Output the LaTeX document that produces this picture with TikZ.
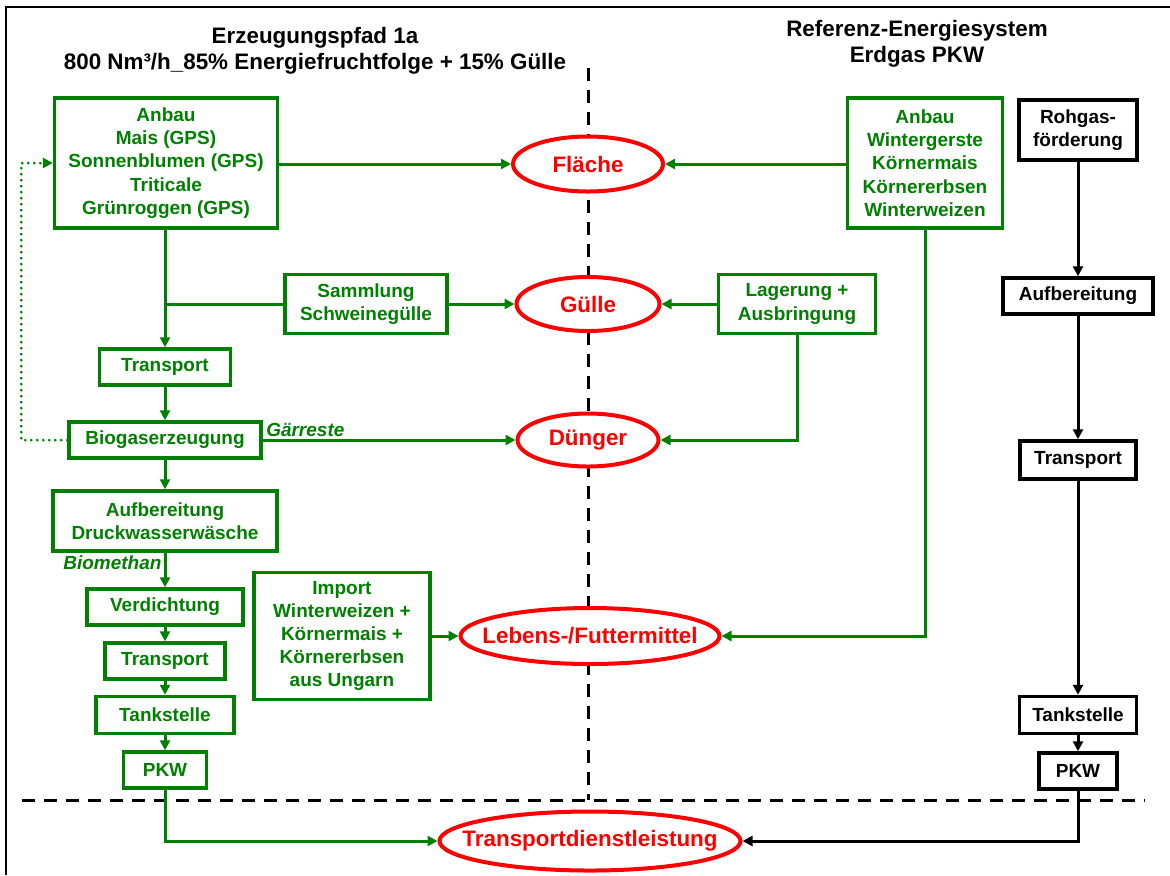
\documentclass[tikz,border=0pt]{standalone}
\usepackage{fontspec}
\setmainfont{Liberation Sans}
\usetikzlibrary{positioning,arrows.meta,shapes.geometric}
\definecolor{gruen}{RGB}{0,128,0}
\definecolor{rot}{RGB}{255,0,0}
\newcommand{\zt}[1]{\makebox[0pt]{#1}}

\begin{document}
\begin{tikzpicture}[
    x=0.5pt, y=-0.5pt,
    box/.style={rectangle, draw, line width=1.75pt, fill=white, align=center, inner sep=1pt, font=\fontsize{9.5}{11.6}\selectfont\bfseries},
    gbox/.style={box, draw=gruen, text=gruen},
    kbox/.style={box, draw=black, text=black},
    ziel/.style={ellipse, draw=rot, line width=2pt, fill=white, text=rot, inner sep=0pt, font=\fontsize{11.2}{13}\selectfont\bfseries},
    titel/.style={align=center, font=\fontsize{11.2}{13}\selectfont\bfseries},
    lbl/.style={text=gruen, inner sep=1pt, font=\fontsize{9.5}{11}\selectfont\bfseries\itshape},
    garrow/.style={-{Triangle[length=5pt,width=5pt]}, gruen, line width=1.5pt},
    gline/.style={gruen, line width=1.5pt},
    gdots/.style={-{Triangle[length=5pt,width=5pt]}, gruen, line width=1.5pt, line cap=round, dash pattern=on 0pt off 3pt},
    karrow/.style={-{Triangle[length=5pt,width=5pt]}, black, line width=1.5pt},
    trenn/.style={black, line width=1.5pt, dash pattern=on 6.5pt off 4.5pt}
]
\useasboundingbox (0,0) rectangle (1170,875);

% Rahmen und Trennlinien
\draw[line width=1.2pt] (6,875) -- (6,7) -- (1170,7);
\coordinate (trennO) at (588,68);
\coordinate (trennU) at (588,800);
\coordinate (trennL) at (22,800);
\coordinate (trennR) at (1145,800);
\draw[trenn] (trennO) -- (trennU);
\draw[trenn] (trennL) -- (trennR);

% Ueberschriften
\node[titel] (titelL) at (315,51) {Erzeugungspfad 1a\\800 Nm³/h\_85\% Energiefruchtfolge + 15\% Gülle};
\node[titel] (titelR) at (917,44) {Referenz-Energiesystem\\Erdgas PKW};

% Erzeugungspfad
\node[gbox, minimum width=111.5pt, minimum height=65pt] (anbauL) at (166,163) {Anbau\\Mais (GPS)\\Sonnenblumen (GPS)\\Triticale\\Grünroggen (GPS)};
\node[gbox, minimum width=81pt, minimum height=29.5pt] (sammlung) at (366,304) {Sammlung\\Schweinegülle};
\node[gbox, minimum width=65.5pt, minimum height=18pt] (transp1) at (165,367) {Transport};
\node[gbox, minimum width=96pt, minimum height=18pt] (biogas) at (165,440) {Biogaserzeugung};
\node[gbox, minimum width=112pt, minimum height=30pt] (aufb) at (165,521) {Aufbereitung\\Druckwasserwäsche};
\node[gbox, minimum width=78pt, minimum height=18pt] (verdicht) at (165,607) {Verdichtung};
\node[gbox, minimum width=60pt, minimum height=18pt] (transp2) at (165,661) {Transport};
\node[gbox, minimum width=69pt, minimum height=18.5pt] (tankG) at (165,715) {Tankstelle};
\node[gbox, minimum width=41.5pt, minimum height=18pt] (pkwG) at (165,770) {PKW};
\node[gbox, minimum width=88pt, minimum height=63.5pt] (import) at (342,636) {Import\\Winterweizen +\\Körnermais +\\Körnererbsen\\aus Ungarn};

% Bilanzgroessen
\node[ziel, minimum width=75pt, minimum height=27.5pt] (flaeche) at (588,164) {\zt{Fläche}};
\node[ziel, minimum width=71.5pt, minimum height=27pt] (guelle) at (588,304) {\zt{Gülle}};
\node[ziel, minimum width=70.5pt, minimum height=26.5pt] (duenger) at (588,440) {\zt{Dünger}};
\node[ziel, minimum width=129.5pt, minimum height=28pt] (lebens) at (590,636) {\zt{Lebens-/Futtermittel}};
\node[ziel, minimum width=150.5pt, minimum height=29.5pt] (tdl) at (590,841) {\zt{Transportdienstleistung}};

% Referenzsystem
\node[gbox, minimum width=77.5pt, minimum height=65pt] (anbauR) at (925,163) {Anbau\\Wintergerste\\Körnermais\\Körnererbsen\\Winterweizen};
\node[gbox, minimum width=78.5pt, minimum height=29.5pt] (lagerung) at (797,304) {Lagerung +\\Ausbringung};
\node[kbox, minimum width=59pt, minimum height=30pt] (rohgas) at (1078,130) {Rohgas-\\förderung};
\node[kbox, minimum width=75pt, minimum height=18pt] (aufbK) at (1078,296) {Aufbereitung};
\node[kbox, minimum width=58pt, minimum height=19pt] (transpK) at (1078,460) {Transport};
\node[kbox, minimum width=58.5pt, minimum height=18.5pt] (tankK) at (1078,715) {Tankstelle};
\node[kbox, minimum width=39pt, minimum height=18pt] (pkwK) at (1078,771) {PKW};

% Verbindungen links
\draw[garrow] (anbauL.east |- flaeche) -- (flaeche);
\draw[garrow] (transp1 |- anbauL.south) -- (transp1.north);
\coordinate (abzw) at (transp1 |- sammlung.west);
\draw[gline] (abzw) -- (sammlung.west);
\draw[garrow] (sammlung) -- (guelle);
\draw[garrow] (transp1) -- (biogas);
\draw[garrow] (biogas) -- node[lbl, pos=0, anchor=south west] (gaerreste) {Gärreste} (duenger);
\draw[gdots] (biogas.west) -- ++(-46,0) |- (anbauL.west);
\draw[garrow] (biogas) -- (aufb);
\draw[garrow] (aufb) -- node[lbl, pos=0.3, anchor=east] (biomethan) {Biomethan} (verdicht);
\draw[garrow] (verdicht) -- (transp2);
\draw[garrow] (transp2) -- (tankG);
\draw[garrow] (tankG) -- (pkwG);
\draw[garrow] (import) -- (lebens);
\draw[garrow] (pkwG.south) |- (tdl.west);

% Verbindungen rechts
\draw[garrow] (anbauR.west |- flaeche) -- (flaeche);
\draw[garrow] (lagerung) -- (guelle);
\draw[garrow] (lagerung.south) |- (duenger.east);
\draw[garrow] (anbauR.south) |- (lebens.east);
\draw[karrow] (rohgas) -- (aufbK);
\draw[karrow] (aufbK) -- (transpK);
\draw[karrow] (transpK) -- (tankK);
\draw[karrow] (tankK) -- (pkwK);
\draw[karrow] (pkwK.south) |- (tdl.east);
\end{tikzpicture}
\end{document}
